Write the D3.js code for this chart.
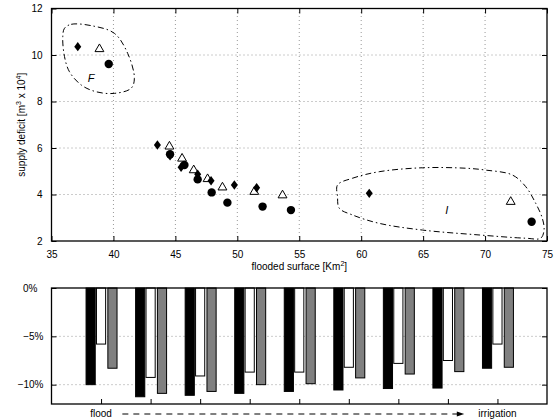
<!DOCTYPE html>
<html>
<head>
<meta charset="utf-8">
<script src="https://cdn.jsdelivr.net/npm/d3@7"></script>
<style>
  html, body { margin: 0; padding: 0; background: #fff; }
  svg { display: block; font-family: "Liberation Sans", Arial, Helvetica, sans-serif; }
</style>
</head>
<body>
<svg id="chart" width="557" height="420"></svg>
<script>
// ---------- data: top scatter (flooded surface [Km2], supply deficit [m3 x 1e4]) ----------
const diamondX = [37.12, 43.55, 44.57, 45.46, 46.80, 47.88, 49.76, 51.56, 60.65];
const diamondY = [10.36, 6.13, 5.66, 5.17, 4.87, 4.59, 4.41, 4.29, 4.05];
const triangleX = [38.87, 44.52, 45.54, 46.48, 47.60, 48.80, 51.37, 53.65, 72.07];
const triangleY = [10.29, 6.10, 5.58, 5.08, 4.70, 4.34, 4.15, 4.00, 3.72];
const circleX = [39.62, 44.57, 45.73, 46.80, 47.93, 49.20, 52.04, 54.33, 73.76];
const circleY = [9.61, 5.73, 5.27, 4.65, 4.09, 3.65, 3.48, 3.33, 2.83];

// enclosing curves (data coordinates)
const hullF = [[36.05,11.15],[36.59,11.32],[38.33,11.25],[40.08,10.93],[41.15,10.07],[41.69,9.0],
               [41.43,8.57],[40.08,8.35],[38.6,8.42],[37.4,8.71],[36.45,9.28],[36.05,9.93],[35.91,10.79]];
const hullI = [[58.09,4.41],[59.3,4.70],[61.45,4.98],[64.95,5.15],[68.44,5.13],[70.05,5.05],[72.2,4.84],
               [73.28,4.34],[74.09,3.62],[74.62,2.98],[74.76,2.47],[74.49,2.12],[73.28,2.12],[69.52,2.26],
               [64.95,2.47],[61.45,2.76],[59.3,3.12],[58.23,3.41],[58.09,3.91]];
const hullLabels = [{t: "F", x: 38.2, y: 9.0}, {t: "I", x: 66.9, y: 3.33}];

const xTicksTop = [35, 40, 45, 50, 55, 60, 65, 70, 75];
const yTicksTop = [2, 4, 6, 8, 10, 12];

// ---------- data: bottom bars (% change) ----------
const groups = [1, 2, 3, 4, 5, 6, 7, 8, 9];
const blackPct = [-10.0, -11.25, -11.1, -10.9, -10.7, -10.55, -10.4, -10.35, -8.3];
const whitePct = [-5.8, -9.25, -9.1, -8.7, -8.7, -8.2, -7.8, -7.5, -5.8];
const grayPct  = [-8.3, -10.9, -10.7, -10.0, -9.9, -9.3, -8.9, -8.65, -8.2];
const yTicksBot = [0, -5, -10];
const yTickLabelsBot = ["0%", "\u22125%", "\u221210%"];

const svg = d3.select("#chart");
const FS = 10;

// ================= TOP PLOT =================
const L = 51.5, R = 547;
const xT = d3.scaleLinear().domain([35, 75]).range([L, R]);
const yT = d3.scaleLinear().domain([2, 12]).range([241, 8.5]);

const gTop = svg.append("g");
// grid
gTop.append("g").selectAll("line").data(xTicksTop.slice(1, -1)).join("line")
  .attr("x1", d => xT(d)).attr("x2", d => xT(d)).attr("y1", yT(2)).attr("y2", yT(12))
  .attr("stroke", "#999").attr("stroke-width", 1).attr("stroke-dasharray", "1,3");
gTop.append("g").selectAll("line").data(yTicksTop.slice(1, -1)).join("line")
  .attr("y1", d => yT(d)).attr("y2", d => yT(d)).attr("x1", xT(35)).attr("x2", xT(75))
  .attr("stroke", "#999").attr("stroke-width", 1).attr("stroke-dasharray", "1,3");

// axes with inward ticks
const axB = gTop.append("g").attr("transform", `translate(0,${yT(2)})`)
  .call(d3.axisBottom(xT).tickValues(xTicksTop).tickSizeInner(-5).tickSizeOuter(0).tickPadding(10).tickFormat(d3.format("d")));
const axTp = gTop.append("g").attr("transform", `translate(0,${yT(12)})`)
  .call(d3.axisTop(xT).tickValues(xTicksTop).tickSizeInner(-5).tickSizeOuter(0).tickFormat(""));
const axL = gTop.append("g").attr("transform", `translate(${xT(35)},0)`)
  .call(d3.axisLeft(yT).tickValues(yTicksTop).tickSizeInner(-5).tickSizeOuter(0).tickPadding(9).tickFormat(d3.format("d")));
const axR = gTop.append("g").attr("transform", `translate(${xT(75)},0)`)
  .call(d3.axisRight(yT).tickValues(yTicksTop).tickSizeInner(-5).tickSizeOuter(0).tickFormat(""));
[axB, axTp, axL, axR].forEach(a => {
  a.select(".domain").remove();
  a.selectAll("line").attr("stroke", "#000");
  a.selectAll("text").attr("font-size", FS).attr("fill", "#000").attr("font-family", "Liberation Sans, Arial, sans-serif");
});
gTop.append("rect").attr("x", xT(35)).attr("y", yT(12)).attr("width", xT(75) - xT(35)).attr("height", yT(2) - yT(12))
  .attr("fill", "none").attr("stroke", "#000").attr("stroke-width", 1.3);

// hulls
const hullLine = d3.line().x(d => xT(d[0])).y(d => yT(d[1])).curve(d3.curveCatmullRomClosed.alpha(0.5));
[hullF, hullI].forEach(h => gTop.append("path").attr("d", hullLine(h)).attr("fill", "none")
  .attr("stroke", "#000").attr("stroke-width", 1).attr("stroke-dasharray", "6,3,1.5,3"));
gTop.selectAll("text.hl").data(hullLabels).join("text").attr("class", "hl")
  .attr("x", d => xT(d.x)).attr("y", d => yT(d.y)).attr("dy", "0.35em").attr("text-anchor", "middle")
  .attr("font-size", 11).attr("font-style", "italic").text(d => d.t);

// markers
const tri = d3.symbol().type(d3.symbolTriangle).size(34);
gTop.append("g").selectAll("path").data(triangleX.map((x, i) => [x, triangleY[i]])).join("path")
  .attr("d", tri).attr("transform", d => `translate(${xT(d[0])},${yT(d[1]) + 0.8})`)
  .attr("fill", "#fff").attr("stroke", "#000").attr("stroke-width", 1);
gTop.append("g").selectAll("path").data(diamondX.map((x, i) => [x, diamondY[i]])).join("path")
  .attr("d", "M0,-4.7L3.5,0L0,4.7L-3.5,0Z").attr("transform", d => `translate(${xT(d[0])},${yT(d[1])})`)
  .attr("fill", "#000");
gTop.append("g").selectAll("circle").data(circleX.map((x, i) => [x, circleY[i]])).join("circle")
  .attr("cx", d => xT(d[0])).attr("cy", d => yT(d[1])).attr("r", 4.2).attr("fill", "#000");

// axis titles
const xt = gTop.append("text").attr("x", (L + R) / 2).attr("y", 270).attr("text-anchor", "middle").attr("font-size", FS);
xt.append("tspan").text("flooded surface [Km");
xt.append("tspan").attr("dy", -4).attr("font-size", 7).text("2");
xt.append("tspan").attr("dy", 4).text("]");
const yt = gTop.append("text").attr("transform", `translate(25,${(yT(2) + yT(12)) / 2}) rotate(-90)`)
  .attr("text-anchor", "middle").attr("font-size", FS);
yt.append("tspan").text("supply deficit [m");
yt.append("tspan").attr("dy", -4).attr("font-size", 7).text("3");
yt.append("tspan").attr("dy", 4).text(" x 10");
yt.append("tspan").attr("dy", -4).attr("font-size", 7).text("4");
yt.append("tspan").attr("dy", 4).text("]");

// ================= BOTTOM PLOT =================
const xB = d3.scaleLinear().domain([0, 10]).range([L, R]);
const yB = d3.scaleLinear().domain([-12, 0]).range([404, 288]);
const gBot = svg.append("g");
const bw = xB(0.185) - xB(0);

gBot.append("g").selectAll("line").data([-5, -10]).join("line")
  .attr("y1", d => yB(d)).attr("y2", d => yB(d)).attr("x1", xB(0)).attr("x2", xB(10))
  .attr("stroke", "#999").attr("stroke-width", 1).attr("stroke-dasharray", "1,3");

const series = [
  {vals: blackPct, off: -0.21, fill: "#000"},
  {vals: whitePct, off: 0.0, fill: "#fff"},
  {vals: grayPct, off: 0.23, fill: "#808080"}
];
series.forEach(s => {
  gBot.append("g").selectAll("rect").data(groups.map((g, i) => [g, s.vals[i]])).join("rect")
    .attr("x", d => xB(d[0] + s.off) - bw / 2).attr("width", bw)
    .attr("y", yB(0)).attr("height", d => yB(d[1]) - yB(0))
    .attr("fill", s.fill).attr("stroke", "#000").attr("stroke-width", 1);
});

const bAx = gBot.append("g").attr("transform", `translate(0,${yB(-12)})`)
  .call(d3.axisBottom(xB).tickValues(groups).tickSizeInner(-5).tickSizeOuter(0).tickFormat(""));
const bL = gBot.append("g").attr("transform", `translate(${xB(0)},0)`)
  .call(d3.axisLeft(yB).tickValues(yTicksBot).tickSizeInner(-5).tickSizeOuter(0).tickPadding(8)
    .tickFormat((d, i) => yTickLabelsBot[i]));
const bR = gBot.append("g").attr("transform", `translate(${xB(10)},0)`)
  .call(d3.axisRight(yB).tickValues(yTicksBot).tickSizeInner(-5).tickSizeOuter(0).tickFormat(""));
[bAx, bL, bR].forEach(a => {
  a.select(".domain").remove();
  a.selectAll("line").attr("stroke", "#000");
  a.selectAll("text").attr("font-size", FS).attr("fill", "#000").attr("font-family", "Liberation Sans, Arial, sans-serif");
});
bL.selectAll(".tick").filter(d => d === 0).select("text").attr("dx", -6);
gBot.append("rect").attr("x", xB(0)).attr("y", yB(0)).attr("width", xB(10) - xB(0)).attr("height", yB(-12) - yB(0))
  .attr("fill", "none").attr("stroke", "#000").attr("stroke-width", 1.3);

// flood -> irrigation annotation
gBot.append("text").attr("x", xB(groups[0])).attr("y", 417).attr("text-anchor", "middle").attr("font-size", FS).text("flood");
gBot.append("text").attr("x", xB(groups[8])).attr("y", 417).attr("text-anchor", "middle").attr("font-size", FS).text("irrigation");
const ay = 414;
gBot.append("line").attr("x1", xB(1.43)).attr("x2", xB(8.2)).attr("y1", ay).attr("y2", ay)
  .attr("stroke", "#000").attr("stroke-width", 1).attr("stroke-dasharray", "6,5");
gBot.append("path").attr("d", `M${xB(8.2) - 1},${ay - 2.5}L${xB(8.33)},${ay}L${xB(8.2) - 1},${ay + 2.5}Z`).attr("fill", "#000");
</script>
</body>
</html>
